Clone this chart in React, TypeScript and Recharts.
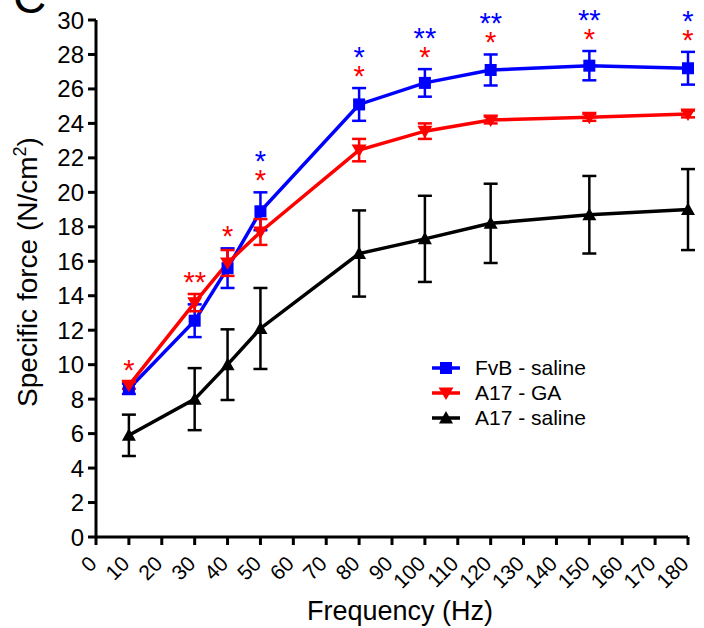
import React from 'react';
import { ComposedChart, Line, XAxis, YAxis, ErrorBar, Scatter, Legend } from 'recharts';

const FONT = '"Liberation Sans", Arial, Helvetica, sans-serif';

const frequencies = [10, 30, 40, 50, 80, 100, 120, 150, 180];
const fvbSaline = [8.6, 12.55, 15.6, 18.9, 25.1, 26.35, 27.1, 27.35, 27.2];
const fvbSalineErr = [0.3, 0.95, 1.15, 1.1, 0.95, 0.8, 0.9, 0.85, 0.95];
const a17GA = [8.8, 13.6, 15.9, 17.7, 22.45, 23.55, 24.2, 24.35, 24.55];
const a17GAErr = [0.2, 0.5, 0.75, 0.75, 0.65, 0.45, 0.2, 0.2, 0.2];
const a17Saline = [5.9, 8.0, 10.0, 12.1, 16.45, 17.3, 18.2, 18.7, 19.0];
const a17SalineErr = [1.2, 1.8, 2.05, 2.35, 2.5, 2.5, 2.3, 2.25, 2.35];
const gaStars = ['*', '**', '*', '*', '*', '*', '*', '*', '*'];
const fvbStars = ['', '', '', '*', '*', '**', '**', '**', '*'];

const xTicks = [0, 10, 20, 30, 40, 50, 60, 70, 80, 90, 100, 110, 120, 130, 140, 150, 160, 170, 180];
const yTicks = [0, 2, 4, 6, 8, 10, 12, 14, 16, 18, 20, 22, 24, 26, 28, 30];

const seriesNames = ['FvB - saline', 'A17 - GA', 'A17 - saline'];
const seriesColors = ['#0000ff', '#ff0000', '#000000'];

const data = frequencies.map((f, i) => ({
  freq: f,
  fvb: fvbSaline[i],
  fvbErr: fvbSalineErr[i],
  ga: a17GA[i],
  gaErr: a17GAErr[i],
  sal: a17Saline[i],
  salErr: a17SalineErr[i],
  starBase: Math.max(fvbSaline[i] + fvbSalineErr[i], a17GA[i] + a17GAErr[i]),
  gaStar: gaStars[i],
  fvbStar: fvbStars[i],
}));

const SquareDot = (p: any) => (
  <rect key={`sq-${p.index}`} x={p.cx - 6} y={p.cy - 6} width={12} height={12} fill="#0000ff" />
);
const DownTri = (p: any) => (
  <polygon
    key={`dt-${p.index}`}
    points={`${p.cx - 7.5},${p.cy - 5.5} ${p.cx + 7.5},${p.cy - 5.5} ${p.cx},${p.cy + 7}`}
    fill="#ff0000"
  />
);
const UpTri = (p: any) => (
  <polygon
    key={`ut-${p.index}`}
    points={`${p.cx - 7},${p.cy + 5.5} ${p.cx + 7},${p.cy + 5.5} ${p.cx},${p.cy - 7}`}
    fill="#000000"
  />
);

const StarShape = (p: any) => {
  const { cx, cy, payload } = p;
  return (
    <g>
      <text x={cx} y={cy - 19 + 17} textAnchor="middle" fontSize={29} fill="#ff0000" fontFamily={FONT}>
        {payload.gaStar}
      </text>
      {payload.fvbStar ? (
        <text x={cx} y={cy - 38 + 17} textAnchor="middle" fontSize={29} fill="#0000ff" fontFamily={FONT}>
          {payload.fvbStar}
        </text>
      ) : null}
    </g>
  );
};

const XTick = (p: any) => {
  const ax = p.x + 2;
  const ay = p.y + 18;
  return (
    <text
      x={ax}
      y={ay}
      transform={`rotate(-45, ${ax}, ${ay})`}
      textAnchor="end"
      fontSize={21}
      fill="#000"
      fontFamily={FONT}
    >
      {p.payload.value}
    </text>
  );
};

const LegendContent = () => (
  <div style={{ fontFamily: FONT }}>
    {seriesNames.map((name, i) => (
      <div key={name} style={{ display: 'flex', alignItems: 'center', height: 25 }}>
        <svg width={32} height={20} style={{ display: 'block' }}>
          <line x1={2} y1={10} x2={30} y2={10} stroke={seriesColors[i]} strokeWidth={3.5} />
          {i === 0 && <rect x={10} y={4} width={12} height={12} fill={seriesColors[i]} />}
          {i === 1 && <polygon points="8.5,4.5 23.5,4.5 16,17" fill={seriesColors[i]} />}
          {i === 2 && <polygon points="9,15.5 23,15.5 16,3" fill={seriesColors[i]} />}
        </svg>
        <span style={{ marginLeft: 13, fontSize: 21, color: '#000', whiteSpace: 'nowrap' }}>{name}</span>
      </div>
    ))}
  </div>
);

const YLabel = () => (
  <text transform="translate(37, 272) rotate(-90)" x={0} y={0} textAnchor="middle" fontSize={28} fill="#000" fontFamily={FONT}>
    Specific force (N/cm
    <tspan dy={-11} fontSize={18}>2</tspan>
    <tspan dy={11}>)</tspan>
  </text>
);

const XLabel = () => (
  <text x={400} y={620} textAnchor="middle" fontSize={27} fill="#000" fontFamily={FONT}>
    Frequency (Hz)
  </text>
);

export default function App() {
  return (
    <div style={{ position: 'absolute', left: 0, top: 0, width: 704, height: 628, background: '#fff' }}>
      <ComposedChart
        width={704}
        height={628}
        data={data}
        margin={{ top: 20, right: 16, bottom: 0, left: 0 }}
      >
        <XAxis
          type="number"
          dataKey="freq"
          domain={[0, 180]}
          ticks={xTicks}
          interval={0}
          height={91}
          axisLine={{ stroke: '#000', strokeWidth: 3 }}
          tickLine={{ stroke: '#000', strokeWidth: 3 }}
          tickSize={8}
          tick={<XTick />}
          label={{ content: () => <XLabel /> }}
        />
        <YAxis
          type="number"
          domain={[0, 30]}
          ticks={yTicks}
          interval={0}
          width={96}
          axisLine={{ stroke: '#000', strokeWidth: 3 }}
          tickLine={{ stroke: '#000', strokeWidth: 3 }}
          tickSize={8}
          tickMargin={4}
          tick={{ fill: '#000', fontSize: 24, fontFamily: FONT }}
          label={{ content: () => <YLabel /> }}
        />
        <Line
          type="linear"
          dataKey="sal"
          name="A17 - saline"
          stroke="#000000"
          strokeWidth={3.5}
          dot={UpTri}
          activeDot={false}
          isAnimationActive={false}
        >
          <ErrorBar dataKey="salErr" direction="y" width={7} stroke="#000000" strokeWidth={2.5} />
        </Line>
        <Line
          type="linear"
          dataKey="fvb"
          name="FvB - saline"
          stroke="#0000ff"
          strokeWidth={3.5}
          dot={SquareDot}
          activeDot={false}
          isAnimationActive={false}
        >
          <ErrorBar dataKey="fvbErr" direction="y" width={7} stroke="#0000ff" strokeWidth={2.5} />
        </Line>
        <Line
          type="linear"
          dataKey="ga"
          name="A17 - GA"
          stroke="#ff0000"
          strokeWidth={3.5}
          dot={DownTri}
          activeDot={false}
          isAnimationActive={false}
        >
          <ErrorBar dataKey="gaErr" direction="y" width={7} stroke="#ff0000" strokeWidth={2.5} />
        </Line>
        <Scatter dataKey="starBase" shape={StarShape} legendType="none" isAnimationActive={false} />
        <Legend
          layout="vertical"
          align="center"
          verticalAlign="middle"
          content={<LegendContent />}
          wrapperStyle={{ left: 430, top: 355, width: 200, height: 80 }}
        />
      </ComposedChart>
      <svg width={704} height={628} style={{ position: 'absolute', left: 0, top: 0, pointerEvents: 'none' }}>
        <text x={13} y={13} fontSize={46} fill="#000" fontFamily={FONT}>
          C
        </text>
      </svg>
    </div>
  );
}
